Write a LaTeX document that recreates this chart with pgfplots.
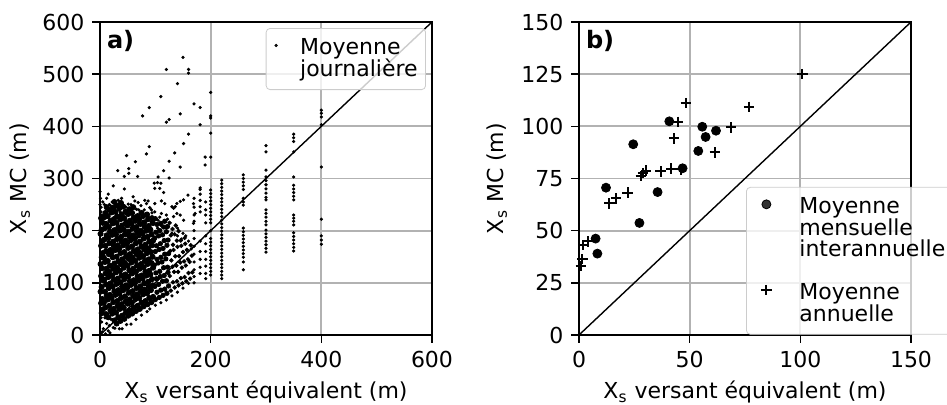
\documentclass[border=0pt]{standalone}
\usepackage{fontspec}
\setmainfont{DejaVu Sans}
\usepackage{pgfplots}
\pgfplotsset{compat=1.18}
\newcommand{\txt}{\fontsize{11}{10.75}\selectfont\lineskiplimit=-6pt\relax}
\pgfplotsset{
  panel/.style={
    scale only axis, width=166pt, height=156.5pt,
    anchor=south west,
    axis line style={line width=0.8pt},
    grid=major, grid style={line width=0.9pt, color=black!30},
    tick style={black, line width=0.8pt},
    tick align=outside, major tick length=4pt,
    xtick pos=left, ytick pos=left,
    /pgf/number format/assume math mode=true,
    ticklabel style={font=\txt},
    label style={font=\txt},
    xlabel style={at={(axis description cs:0.5,0)}, anchor=base, yshift=-32pt},
    legend style={font=\txt, draw=black!20, rounded corners=2pt,
      fill=white, fill opacity=0.8, text opacity=1,
      inner xsep=2pt, inner ysep=3pt, column sep=2pt, row sep=0pt,
      cells={align=left, anchor=north west, inner xsep=0pt, inner ysep=0.5pt}},
  },
  dot/.style={only marks, mark=*, black, mark options={draw=none, fill=black}},
  legsmall/.style={legend image code/.code={%
    \path[draw=none] (-3pt,-5.5pt) -- (8pt,-5.5pt);
    \draw[##1] plot coordinates {(0pt,-5.5pt)};}},
  legbig/.style={legend image code/.code={%
    \path[draw=none] (-8pt,-5.5pt) -- (12.5pt,-5.5pt);
    \draw[##1] plot coordinates {(0pt,-5.5pt)};}},
  legbiggap/.style={legend image code/.code={%
    \path[draw=none] (-8pt,7.5pt) -- (12.5pt,-5.5pt);
    \draw[##1] plot coordinates {(0pt,-5.5pt)};}},
}
\begin{document}
\txt
\begin{tikzpicture}
\useasboundingbox (0,0) rectangle (473.5pt,202.5pt);

% a) moyennes journalieres
\begin{axis}[panel, at={(50pt,35pt)},
  xmin=0, xmax=600, ymin=0, ymax=600,
  xtick={0,200,400,600}, ytick={0,100,...,600},
  xlabel={X\textsubscript{s} versant équivalent (m)},
  ylabel={X\textsubscript{s} MC (m)},
  ylabel style={at={(axis description cs:-0.241,0.5)}, anchor=center},
  legend style={at={(axis description cs:1,1)}, anchor=north east, xshift=-3pt, yshift=-3pt},
]
\addplot[black, line width=0.7pt, forget plot] coordinates {(0,0) (600,600)};
% coeur dense du nuage
\addplot[dot, mark size=1.3pt, forget plot] coordinates {
(3,42)(5,49)(2,61)(4,69)(1,83)(3,92)(5,105)(2,113)(4,128)(1,136)(3,149)(5,157)(2,171)(4,180)(1,194)(3,202)(5,215)(2,224)
(11,40)(10,53)(7,62)(12,75)(9,83)(11,97)(8,106)(10,118)(12,127)(9,140)(7,148)(11,161)(10,171)(8,183)(12,191)(9,205)(11,213)(8,226)(10,234)(12,245)
(15,34)(19,47)(17,56)(14,68)(18,77)(16,90)(19,99)(15,111)(17,121)(18,133)(14,142)(16,155)(19,163)(17,176)(15,186)(18,198)(16,207)(19,219)(14,228)(17,240)
(26,28)(22,41)(25,50)(24,63)(21,71)(26,84)(23,93)(25,106)(22,114)(24,127)(26,137)(23,149)(21,158)(25,171)(24,179)(22,192)(26,201)(23,214)(25,222)(21,235)(24,244)(26,255)
(30,22)(33,34)(29,43)(32,56)(31,65)(28,77)(33,86)(30,98)(32,108)(29,120)(31,129)(33,141)(30,150)(28,163)(32,172)(31,184)(29,193)(33,206)(30,215)(32,227)(28,236)(31,248)
(37,27)(40,37)(36,50)(39,59)(38,71)(35,80)(40,93)(37,101)(39,114)(36,123)(38,136)(40,145)(37,157)(35,166)(39,179)(38,188)(36,200)(40,210)(37,222)(39,231)(35,243)(38,253)
(44,31)(47,43)(43,52)(46,64)(45,74)(42,86)(47,95)(44,107)(46,116)(43,129)(45,138)(47,150)(44,159)(42,172)(46,181)(45,193)(43,202)(47,215)(44,224)(46,236)(42,246)
(51,37)(54,47)(50,60)(53,68)(52,81)(49,90)(54,103)(51,112)(53,124)(50,133)(52,146)(54,155)(51,167)(49,176)(53,189)(52,198)(50,210)(54,219)(51,232)(53,241)
(58,41)(61,53)(57,62)(60,75)(59,84)(56,96)(61,105)(58,118)(60,127)(57,139)(59,148)(61,161)(58,170)(56,182)(60,191)(59,204)(57,213)(61,225)(58,234)(60,245)
(65,46)(68,56)(64,69)(67,78)(66,90)(63,99)(68,112)(65,121)(67,133)(64,142)(66,155)(68,164)(65,176)(63,185)(67,198)(66,207)(64,219)(68,228)
(72,50)(75,62)(71,71)(74,84)(73,93)(70,105)(75,114)(72,127)(74,136)(71,148)(73,157)(75,170)(72,179)(70,191)(74,200)(73,213)(71,222)(75,234)
(79,55)(82,65)(78,78)(81,87)(80,99)(77,108)(82,121)(79,130)(81,142)(78,151)(80,164)(82,173)(79,185)(77,194)(81,207)(80,216)(78,228)
(86,59)(89,71)(85,80)(88,93)(87,102)(84,114)(89,123)(86,136)(88,145)(85,157)(87,166)(89,179)(86,188)(84,200)(88,209)(87,222)(85,231)
(93,63)(96,73)(92,86)(95,95)(94,107)(91,116)(96,129)(93,138)(95,150)(92,159)(94,172)(96,181)(93,193)(91,202)(95,215)(94,224)
};
\addplot[dot, mark size=1.1pt, forget plot] coordinates {
(100,68)(103,82)(99,93)(102,108)(101,119)(98,134)(103,145)(100,160)(102,171)(99,186)(101,197)(103,212)(100,223)
(107,72)(110,86)(106,97)(109,112)(108,122)(105,138)(110,149)(107,164)(109,175)(106,190)(108,200)(110,214)
(114,76)(117,88)(113,103)(116,114)(115,129)(112,140)(117,155)(114,166)(116,181)(113,192)(115,207)(117,218)
(121,80)(124,94)(120,104)(123,120)(122,130)(119,146)(124,156)(121,172)(123,182)(120,198)(122,208)
};
\addplot[dot, mark size=0.9pt, forget plot] coordinates {
(128,85)(132,101)(126,113)(131,131)(129,143)(127,161)(132,173)(128,191)(131,203)(126,215)
(135,91)(139,103)(134,121)(138,133)(136,151)(133,163)(139,181)(135,193)(137,210)
(142,95)(146,109)(141,121)(145,139)(143,151)(140,169)(146,181)(142,199)
(149,99)(153,111)(148,129)(152,141)(150,159)(147,171)(153,186)
(156,103)(160,119)(155,133)(159,145)(157,163)(154,175)
(163,108)(167,120)(162,140)(166,152)(164,172)
};
% points isoles et colonnes
\addplot[dot, mark size=0.6pt, legsmall] coordinates {
(150,532)(120,509)(160,509)(160,502)(140,482)(110,457)(200,465)(170,443)(181,436)(89,436)(77,420)(145,424)(200,420)(200,416)(125,413)(120,408)(181,403)(160,385)(200,387)(151,367)(89,361)(48,344)(84,347)(135,349)(190,341)(200,341)(64,332)(125,333)(190,326)(52,319)(52,310)(32,315)(115,315)(145,322)(44,304)(68,304)(105,303)(125,301)(98,291)(104,292)(110,291)(24,286)(44,280)(181,279)
(99,281)(108,281)(115,273)(63,257)(69,254)(81,258)(87,257)(84,252)(99,252)(111,257)(117,252)(39,262)(42,249)(36,236)(39,227)(27,227)(30,214)(18,201)(21,198)(130,246)(133,243)(136,246)(139,252)(145,256)(151,259)(159,268)(133,227)(139,233)(145,230)(151,220)(169,252)(172,233)(169,214)(111,233)(120,230)(93,240)(99,236)(87,227)(63,220)(69,214)(75,211)(51,230)(57,240)(0,250)(1,262)(0,275)(2,245)(5,255)(12,262)(15,270)(60,265)(70,240)(105,220)(125,215)(140,205)(150,195)(160,180)(165,165)(155,190)(110,210)(120,205)(130,195)(140,190)(147,184)(8,250)(22,255)(28,250)(47,245)(56,250)(80,230)(88,222)(97,212)(104,205)
(2,236)(17,250)(33,258)(51,251)(66,241)(80,240)(94,234)(108,226)(122,222)(4,230)(20,247)(62,246)(90,244)(74,248)
(27,13)(56,21)(40,12)(65,30)(75,38)(90,50)(100,57)(110,62)(120,67)(130,75)(140,82)(150,90)(160,99)(10,2)(18,4)(35,12)(48,20)(85,45)(170,100)
(3,25)(6,12)(2,33)(12,22)(9,33)(17,18)(15,8)(24,14)(4,6)(20,30)
(170,262)(170,245)(170,230)(170,218)(170,200)(170,185)(170,170)(170,155)(170,140)(170,125)(170,112)
(181,282)(181,270)(181,258)(181,246)(181,236)(181,180)(181,160)(181,145)(181,130)(181,118)
(191,255)(191,240)(191,230)(191,215)(191,190)(191,175)(191,160)(191,145)(191,132)(191,118)(191,108)
(200,278)(200,271)(200,264)(200,257)(200,250)(200,243)(200,236)(200,229)(200,222)(200,215)(200,200)(200,185)(200,178)(200,171)(200,164)(200,157)(200,150)(200,143)(200,136)(200,129)(200,122)(200,115)
(220,297)(220,290)(220,283)(220,276)(220,269)(220,262)(220,255)(220,248)(220,241)(220,234)(220,227)(220,220)(220,213)(220,206)(220,199)(220,192)(220,185)(220,178)(220,171)(220,164)(220,157)(220,150)(220,143)(220,136)(220,129)(220,122)(220,115)(220,108)
(259,307)(259,300)(259,293)(259,286)(259,279)(259,262)(259,255)(259,249)(259,205)(259,198)(259,191)(259,184)(259,177)(259,170)(259,163)(259,156)(259,149)(259,140)(259,125)
(300,363)(300,351)(300,316)(300,303)(300,296)(300,288)(300,280)(300,272)(300,264)(300,259)(300,240)(300,233)(300,226)(300,218)(300,211)(300,201)(300,194)(300,187)(300,180)(300,173)(300,166)(300,159)
(350,385)(350,378)(350,371)(350,351)(350,303)(350,287)(350,280)(350,273)(350,266)(350,259)(350,230)(350,224)(350,218)(350,211)(350,196)(350,189)(350,182)(350,175)(350,168)(350,161)
(400,431)(400,425)(400,418)(400,403)(400,322)(400,222)(400,190)(400,182)(400,174)
};
\addlegendentry{Moyenne\\journalière}
\node[anchor=north west, inner sep=0pt, font=\fontsize{12}{12}\bfseries\selectfont]
  at ([xshift=3.3pt,yshift=-4pt]rel axis cs:0,1) {a)};
\end{axis}

% b) moyennes mensuelles et annuelles
\begin{axis}[panel, at={(289.5pt,35pt)},
  xmin=0, xmax=150, ymin=0, ymax=150,
  xtick={0,50,100,150}, ytick={0,25,...,150},
  xlabel={X\textsubscript{s} versant équivalent (m)},
  ylabel={X\textsubscript{s} MC (m)},
  ylabel style={at={(axis description cs:-0.247,0.5)}, anchor=center},
  legend style={at={(axis description cs:0.503,0.473)}, anchor=north west},
]
\addplot[black, line width=0.7pt, forget plot] coordinates {(0,0) (150,150)};
\addplot[dot, mark size=2.25pt, legbig] coordinates {
(24.5,91.4)(40.8,102.4)(55.7,99.8)(57.2,94.9)(61.9,97.9)(53.9,88.2)
(46.8,79.9)(12.2,70.6)(35.5,68.5)(27.3,53.7)(7.5,46.2)(8.3,39.0)
};
\addlegendentry{Moyenne\\mensuelle\\interannuelle}
\addplot[only marks, mark=+, mark size=2.6pt, black, mark options={line width=1pt}, legbiggap] coordinates {
(100.9,125.1)(48.3,111.2)(76.8,109.3)(44.6,102.1)(68.8,99.5)(42.9,94.2)
(61.4,87.5)(30.3,78.8)(27.9,76.2)(29.0,77.5)(36.9,78.4)(41.7,79.7)
(45.9,79.4)(22.0,68.2)(16.7,65.5)(13.7,63.1)(4.2,44.9)(2.0,43.0)
(1.5,36.3)(0.8,33.0)
};
\addlegendentry{Moyenne\\annuelle}
\node[anchor=north west, inner sep=0pt, font=\fontsize{12}{12}\bfseries\selectfont]
  at ([xshift=3.3pt,yshift=-4pt]rel axis cs:0,1) {b)};
\end{axis}
\end{tikzpicture}
\end{document}
